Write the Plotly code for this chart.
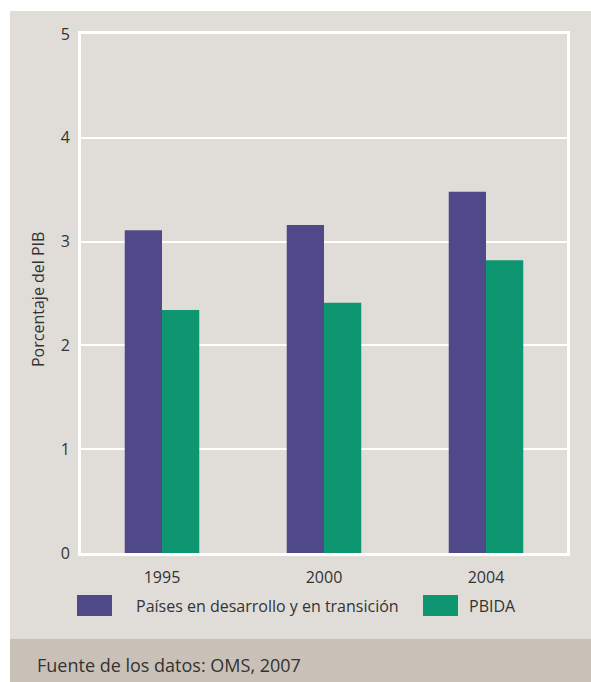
import plotly.graph_objects as go

years = ["1995", "2000", "2004"]
paises = [3.11, 3.16, 3.48]
pbida = [2.34, 2.41, 2.82]
serie_1 = "Países en desarrollo y en transición"
serie_2 = "PBIDA"
y_title = "Porcentaje del PIB"
fuente = "Fuente de los datos: OMS, 2007"

purple = "#4f4889"
green = "#0e9670"
panel = "#e0ddd8"
footer = "#c9c1b8"
txt = "#333333"
font = "Open Sans"

fig = go.Figure()
fig.add_trace(go.Bar(x=years, y=paises, name=serie_1, marker_color=purple, marker_line_width=0))
fig.add_trace(go.Bar(x=years, y=pbida, name=serie_2, marker_color=green, marker_line_width=0))

W, H = 591, 682
L, R, T, B = 81, 567, 34, 553  # plot area in pixels


def px(x):
    return (x - L) / (R - L)


def py(y):
    return (B - y) / (B - T)


shapes = [
    dict(type="rect", xref="paper", yref="paper", x0=px(10), x1=px(W), y0=py(639), y1=py(11),
         fillcolor=panel, line_width=0, layer="below"),
    dict(type="rect", xref="paper", yref="paper", x0=px(10), x1=px(W), y0=py(H), y1=py(639),
         fillcolor=footer, line_width=0, layer="below"),
    # legend swatches
    dict(type="rect", xref="paper", yref="paper", x0=px(77), x1=px(112), y0=py(616), y1=py(595),
         fillcolor=purple, line_width=0),
    dict(type="rect", xref="paper", yref="paper", x0=px(423), x1=px(458), y0=py(616), y1=py(595),
         fillcolor=green, line_width=0),
]

annotations = [
    dict(text=serie_1, xref="paper", yref="paper", x=px(134), y=py(606), xanchor="left",
         yanchor="middle", showarrow=False, font=dict(size=16, color=txt, family=font)),
    dict(text=serie_2, xref="paper", yref="paper", x=px(467), y=py(606), xanchor="left",
         yanchor="middle", showarrow=False, font=dict(size=16, color=txt, family=font)),
    dict(text=fuente, xref="paper", yref="paper", x=px(35), y=py(665), xanchor="left",
         yanchor="middle", showarrow=False, font=dict(size=18, color=txt, family=font)),
    dict(text=y_title, xref="paper", yref="paper", x=px(38), y=py(300), xanchor="center",
         yanchor="middle", textangle=-90, showarrow=False, font=dict(size=16, color=txt, family=font)),
]

fig.update_layout(
    width=W, height=H,
    margin=dict(l=L, r=W - R, t=T, b=H - B, pad=0),
    paper_bgcolor="white",
    plot_bgcolor=panel,
    barmode="group",
    bargap=0.54,
    bargroupgap=0,
    showlegend=False,
    shapes=shapes,
    annotations=annotations,
    font=dict(family=font, size=16, color=txt),
)
fig.update_yaxes(range=[0, 5], dtick=1, showgrid=True, gridcolor="white", gridwidth=2,
                 showline=True, linecolor="white", linewidth=3, mirror=True, zeroline=False,
                 ticks="", ticklabelstandoff=5, tickfont=dict(size=16, color=txt))
fig.update_xaxes(showline=True, linecolor="white", linewidth=3, mirror=True,
                 ticks="", ticklabelstandoff=8, tickfont=dict(size=16, color=txt))

# drop the default page margin so the figure sits at the window's corner
fig.write_html("out.html", config={"displayModeBar": False},
               post_script="document.body.style.margin = '0';")
